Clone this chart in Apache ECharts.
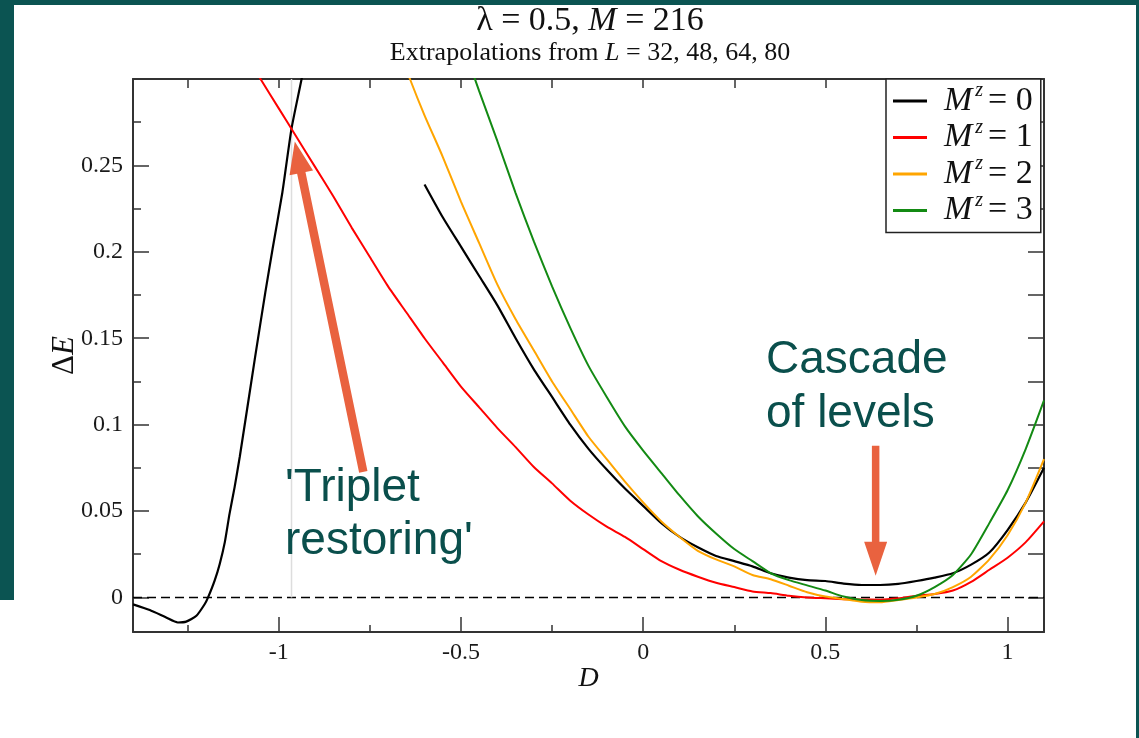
<!DOCTYPE html>
<html><head><meta charset="utf-8">
<script src="https://cdn.jsdelivr.net/npm/echarts@6/dist/echarts.min.js"></script>
<style>
html,body{margin:0;padding:0;background:#0b5452;width:1139px;height:738px;overflow:hidden;position:relative}
#p1{position:absolute;left:14px;top:5px;width:1122px;height:733px;background:#fff}
#p2{position:absolute;left:0;top:600px;width:14px;height:138px;background:#fff}
#c{position:absolute;left:0;top:0;width:1139px;height:738px}
</style></head><body>
<div id="p1"></div><div id="p2"></div><div id="c"></div>
<script>
// ---- data ----
const seriesNames = ['Mz=0', 'Mz=1', 'Mz=2', 'Mz=3'];
const mzValues = ['0', '1', '2', '3'];

const mz0Left = [[-1.40,-0.004],[-1.354,-0.0073],[-1.309,-0.0116],[-1.277,-0.0145],[-1.254,-0.0140],[-1.226,-0.0106],
  [-1.203,-0.0038],[-1.194,0.0],[-1.176,0.0097],[-1.162,0.0194],[-1.148,0.032],[-1.135,0.0485],[-1.121,0.064],
  [-1.107,0.0814],[-1.066,0.1376],[-1.037,0.1764],[-1.017,0.2016],[-0.990,0.2345],[-0.965,0.2713],[-0.936,0.3014],[-0.925,0.315]];
const mz0Right = [[-0.60,0.239],[-0.55,0.220],[-0.50,0.203],[-0.45,0.186],[-0.40,0.169],[-0.35,0.150],[-0.30,0.132],
  [-0.25,0.116],[-0.20,0.100],[-0.15,0.086],[-0.10,0.074],[-0.05,0.063],[0.00,0.053],[0.05,0.043],[0.10,0.035],
  [0.15,0.029],[0.20,0.024],[0.25,0.021],[0.30,0.018],[0.35,0.014],[0.40,0.0115],[0.45,0.010],[0.50,0.0095],
  [0.55,0.008],[0.60,0.0072],[0.65,0.0072],[0.70,0.0078],[0.75,0.0095],[0.80,0.0115],[0.85,0.014],[0.90,0.019],
  [0.95,0.026],[1.00,0.039],[1.05,0.055],[1.10,0.075]];
const mz1 = [[-1.07,0.307],[-1.05,0.300],[-1.00,0.283],[-0.95,0.266],[-0.90,0.249],[-0.85,0.232],[-0.80,0.214],
  [-0.75,0.197],[-0.70,0.180],[-0.65,0.165],[-0.60,0.150],[-0.55,0.136],[-0.50,0.122],[-0.45,0.110],[-0.40,0.098],
  [-0.35,0.087],[-0.30,0.0755],[-0.25,0.066],[-0.20,0.056],[-0.15,0.048],[-0.10,0.041],[-0.05,0.035],[0.00,0.028],
  [0.05,0.021],[0.10,0.016],[0.15,0.012],[0.20,0.0085],[0.25,0.006],[0.30,0.0035],[0.35,0.0025],[0.40,0.001],
  [0.45,0.0],[0.50,-0.0005],[0.55,-0.001],[0.60,-0.0012],[0.65,-0.0013],[0.70,-0.0005],[0.75,0.001],[0.80,0.002],
  [0.85,0.004],[0.90,0.009],[0.95,0.016],[1.00,0.023],[1.05,0.032],[1.10,0.044]];
const mz2 = [[-0.66,0.312],[-0.64,0.300],[-0.60,0.279],[-0.55,0.255],[-0.50,0.229],[-0.45,0.205],[-0.40,0.181],
  [-0.35,0.161],[-0.30,0.143],[-0.25,0.125],[-0.20,0.109],[-0.15,0.093],[-0.10,0.080],[-0.05,0.067],[0.00,0.055],
  [0.05,0.044],[0.10,0.035],[0.15,0.027],[0.20,0.022],[0.25,0.018],[0.30,0.013],[0.35,0.0105],[0.40,0.0068],
  [0.45,0.003],[0.50,0.0005],[0.55,-0.001],[0.60,-0.0025],[0.65,-0.0028],[0.70,-0.0015],[0.75,0.0],[0.80,0.002],
  [0.85,0.006],[0.90,0.012],[0.95,0.022],[1.00,0.036],[1.05,0.055],[1.10,0.080]];
const mz3 = [[-0.48,0.311],[-0.45,0.293],[-0.40,0.264],[-0.35,0.234],[-0.30,0.206],[-0.25,0.180],[-0.20,0.156],
  [-0.15,0.134],[-0.10,0.116],[-0.05,0.099],[0.00,0.085],[0.05,0.072],[0.10,0.059],[0.15,0.047],[0.20,0.037],
  [0.25,0.028],[0.30,0.021],[0.35,0.014],[0.40,0.010],[0.45,0.007],[0.50,0.004],[0.55,0.0005],[0.60,-0.0015],
  [0.65,-0.002],[0.70,-0.0013],[0.75,0.001],[0.80,0.006],[0.85,0.013],[0.90,0.025],[0.95,0.043],[1.00,0.062],
  [1.05,0.086],[1.10,0.114]];

const xMajorTicks = [-1, -0.5, 0, 0.5, 1];
const xMinorTicks = [-1.25, -0.75, -0.25, 0.25, 0.75];
const xAllTicks = [-1.25, -1, -0.75, -0.5, -0.25, 0, 0.25, 0.5, 0.75, 1];
const yMajorTicks = [0, 0.05, 0.1, 0.15, 0.2, 0.25];
const yMinorTicks = [0.025, 0.075, 0.125, 0.175, 0.225, 0.275];
const yAllTicks = [0, 0.025, 0.05, 0.075, 0.1, 0.125, 0.15, 0.175, 0.2, 0.225, 0.25, 0.275];
const xRange = [-1.4, 1.1];
const yRange = [-0.02, 0.3];
const zeroLine = [[-1.4, 0], [1.1, 0]];
const markerLine = [[-0.965, 0], [-0.965, 0.3]];

const titleText = 'λ = 0.5, {i|M} = 216';
const subtitleText = 'Extrapolations from {i|L} = 32, 48, 64, 80';
const note1 = "'Triplet\nrestoring'";
const note2 = 'Cascade\nof levels';
// annotation arrows in data coordinates [tail, tip]
const arrow1 = [[-0.768, 0.0726], [-0.956, 0.2638]];
const arrow2 = [[0.638, 0.0878], [0.638, 0.0126]];

// ---- chart ----
const serif = 'Liberation Serif';
const sans = 'Liberation Sans';
const axisCol = '#333';
const colors = ['#000000', '#ff0000', '#ffa500', '#138a13'];

const chart = echarts.init(document.getElementById('c'), null, {renderer: 'canvas'});

function baseX(extra) {
  return Object.assign({type: 'value', min: xRange[0], max: xRange[1], splitLine: {show: false},
    axisLine: {show: false, onZero: false}, axisLabel: {show: false}, axisTick: {show: false}}, extra);
}
function baseY(extra) {
  return Object.assign({type: 'value', min: yRange[0], max: yRange[1], splitLine: {show: false},
    axisLine: {show: false, onZero: false}, axisLabel: {show: false}, axisTick: {show: false}}, extra);
}
const tickLine = {color: axisCol, width: 1.5};
const lineOpts = {showSymbol: false, clip: true, smooth: 0.2};

const option = {
  animation: false,
  grid: {left: 133, right: 95, top: 79, bottom: 106, containLabel: false},
  xAxis: [
    baseX({position: 'bottom', name: 'D', nameLocation: 'middle', nameGap: 33, nameMoveOverlap: false,
      nameTextStyle: {fontFamily: serif, fontStyle: 'italic', fontSize: 28, color: '#111'},
      axisLine: {show: true, onZero: false, lineStyle: {color: axisCol, width: 2}},
      axisTick: {show: true, inside: true, length: 15, customValues: xMajorTicks, lineStyle: tickLine},
      axisLabel: {show: true, customValues: xMajorTicks, margin: 9, fontFamily: serif, fontSize: 24, color: '#1a1a1a',
        formatter: v => String(v)}}),
    baseX({position: 'bottom', axisTick: {show: true, inside: true, length: 7, customValues: xMinorTicks, lineStyle: tickLine}}),
    baseX({position: 'top', axisLine: {show: true, onZero: false, lineStyle: {color: axisCol, width: 2}},
      axisTick: {show: true, inside: true, length: 9, customValues: xAllTicks, lineStyle: tickLine}})
  ],
  yAxis: [
    baseY({position: 'left', name: '{d|Δ}{e|E}', nameLocation: 'middle', nameRotate: 90, nameGap: 53, nameMoveOverlap: false,
      nameTextStyle: {rich: {d: {fontFamily: serif, fontSize: 31, color: '#111'},
        e: {fontFamily: serif, fontStyle: 'italic', fontSize: 31, color: '#111'}}},
      axisLine: {show: true, onZero: false, lineStyle: {color: axisCol, width: 2}},
      axisTick: {show: true, inside: true, length: 16, customValues: yMajorTicks, lineStyle: tickLine},
      axisLabel: {show: true, customValues: yMajorTicks, margin: 10, fontFamily: serif, fontSize: 24, color: '#1a1a1a',
        formatter: v => String(v)}}),
    baseY({position: 'left', axisTick: {show: true, inside: true, length: 8, customValues: yMinorTicks, lineStyle: tickLine}}),
    baseY({position: 'right', axisLine: {show: true, onZero: false, lineStyle: {color: axisCol, width: 2}},
      axisTick: {show: true, inside: true, length: 16, customValues: yAllTicks, lineStyle: tickLine}})
  ],
  legend: {
    data: seriesNames, orient: 'vertical', left: 886, top: 79,
    padding: [2, 8, 2, 7], itemGap: -3.5, itemWidth: 34, itemHeight: 3, icon: 'rect',
    borderColor: '#222', borderWidth: 1.5, backgroundColor: '#fff', selectedMode: false,
    formatter: name => '{m|M}{z|z}{e|= ' + mzValues[seriesNames.indexOf(name)] + '}',
    textStyle: {color: '#111', rich: {
      m: {fontFamily: serif, fontStyle: 'italic', fontSize: 34, lineHeight: 34, padding: [0, 0, 0, 12], color: '#111'},
      z: {fontFamily: serif, fontStyle: 'italic', fontSize: 20, lineHeight: 8, padding: [0, 5, 20, 3], color: '#111'},
      e: {fontFamily: serif, fontSize: 34, lineHeight: 34, color: '#111'}
    }}
  },
  series: [
    {type: 'line', name: 'ref0', data: zeroLine, showSymbol: false, silent: true, z: 1,
      lineStyle: {color: '#000', width: 1.5, type: [9, 5]}},
    {type: 'line', name: 'ref1', data: markerLine, showSymbol: false, silent: true, z: 1,
      lineStyle: {color: '#dddddd', width: 1.5}},
    Object.assign({type: 'line', name: seriesNames[0], data: mz0Left, color: colors[0], lineStyle: {width: 2.2}}, lineOpts),
    Object.assign({type: 'line', name: seriesNames[0], data: mz0Right, color: colors[0], lineStyle: {width: 2.2}}, lineOpts),
    Object.assign({type: 'line', name: seriesNames[1], data: mz1, color: colors[1], lineStyle: {width: 2}}, lineOpts),
    Object.assign({type: 'line', name: seriesNames[2], data: mz2, color: colors[2], lineStyle: {width: 2}}, lineOpts),
    Object.assign({type: 'line', name: seriesNames[3], data: mz3, color: colors[3], lineStyle: {width: 2}}, lineOpts)
  ]
};
chart.setOption(option);

function arrowPoints(a, shaftW, headL, headW) {
  const t = chart.convertToPixel({gridIndex: 0}, a[0]);
  const p = chart.convertToPixel({gridIndex: 0}, a[1]);
  const dx = p[0] - t[0], dy = p[1] - t[1];
  const len = Math.hypot(dx, dy);
  const ux = dx / len, uy = dy / len, nx = -uy, ny = ux;
  const bx = p[0] - ux * headL, by = p[1] - uy * headL;
  return [
    [t[0] + nx * shaftW / 2, t[1] + ny * shaftW / 2],
    [bx + nx * shaftW / 2, by + ny * shaftW / 2],
    [bx + nx * headW / 2, by + ny * headW / 2],
    [p[0], p[1]],
    [bx - nx * headW / 2, by - ny * headW / 2],
    [bx - nx * shaftW / 2, by - ny * shaftW / 2],
    [t[0] - nx * shaftW / 2, t[1] - ny * shaftW / 2]
  ];
}
const arrowCol = '#e9623f';
const noteCol = '#0a4f4c';
chart.setOption({
  graphic: [
    {type: 'text', x: 590, y: 21, z: 10, style: {text: titleText, fontFamily: serif, fontSize: 34, fill: '#111',
      align: 'center', verticalAlign: 'middle',
      rich: {i: {fontFamily: serif, fontStyle: 'italic', fontSize: 34, fill: '#111'}}}},
    {type: 'text', x: 590, y: 53, z: 10, style: {text: subtitleText, fontFamily: serif, fontSize: 26, fill: '#111',
      align: 'center', verticalAlign: 'middle',
      rich: {i: {fontFamily: serif, fontStyle: 'italic', fontSize: 26, fill: '#111'}}}},
    {type: 'polygon', z: 20, shape: {points: arrowPoints(arrow1, 8.5, 32, 24)}, style: {fill: arrowCol}},
    {type: 'polygon', z: 20, shape: {points: arrowPoints(arrow2, 7.5, 34, 23)}, style: {fill: arrowCol}},
    {type: 'text', x: 285, y: 462, z: 20, style: {text: note1, fontFamily: sans, fontSize: 46, lineHeight: 53,
      fill: noteCol, align: 'left', verticalAlign: 'top'}},
    {type: 'text', x: 766, y: 333, z: 20, style: {text: note2, fontFamily: sans, fontSize: 46, lineHeight: 54,
      fill: noteCol, align: 'left', verticalAlign: 'top'}}
  ]
});
</script>
</body></html>
